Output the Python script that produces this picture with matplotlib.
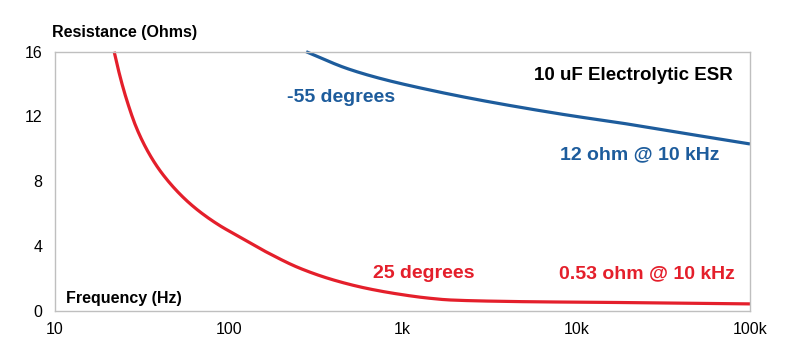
import numpy as np
import matplotlib.pyplot as plt
from matplotlib.ticker import FixedLocator, FixedFormatter, NullLocator

# ESR of a 10 uF electrolytic capacitor vs frequency, read at two temperatures
freq_25 = [21.9, 23.7, 25.9, 29.5, 35.2, 42.0, 54.7, 68.4, 89, 106, 165, 257,
           400, 622, 968, 1400, 1900, 3640, 7060, 10000, 30000, 100000]
esr_25 = [16.0, 14.45, 13.0, 11.27, 9.61, 8.38, 7.0, 6.1, 5.25, 4.78, 3.62,
          2.62, 1.90, 1.38, 1.01, 0.78, 0.66, 0.58, 0.54, 0.53, 0.48, 0.42]

freq_m55 = [279, 477, 743, 1440, 2792, 6760, 10000, 16330, 39500, 100000]
esr_m55 = [16.0, 14.97, 14.35, 13.63, 13.01, 12.29, 12.0, 11.67, 11.0, 10.3]

xticks = [10, 100, 1000, 10000, 100000]
xtick_labels = ['10', '100', '1k', '10k', '100k']
yticks = [0, 4, 8, 12, 16]

red = '#e41f2b'
blue = '#1d5c9c'

plt.rcParams['font.family'] = ['Liberation Sans', 'DejaVu Sans']


def pchip(x, y, xs):
    # monotone cubic (Fritsch-Carlson) so the curves stay smooth between reads
    x = np.asarray(x, float)
    y = np.asarray(y, float)
    h = np.diff(x)
    d = np.diff(y) / h
    m = np.zeros_like(y)
    m[0], m[-1] = d[0], d[-1]
    for k in range(1, len(x) - 1):
        if d[k - 1] * d[k] > 0:
            w1 = 2 * h[k] + h[k - 1]
            w2 = h[k] + 2 * h[k - 1]
            m[k] = (w1 + w2) / (w1 / d[k - 1] + w2 / d[k])
    idx = np.clip(np.searchsorted(x, xs) - 1, 0, len(x) - 2)
    t = (xs - x[idx]) / h[idx]
    h00 = 2 * t**3 - 3 * t**2 + 1
    h10 = t**3 - 2 * t**2 + t
    h01 = -2 * t**3 + 3 * t**2
    h11 = t**3 - t**2
    return (h00 * y[idx] + h10 * h[idx] * m[idx] + h01 * y[idx + 1]
            + h11 * h[idx] * m[idx + 1])


def smooth(f, r, n=400):
    lf = np.log10(f)
    xs = np.linspace(lf[0], lf[-1], n)
    return 10 ** xs, pchip(lf, r, xs)


fig = plt.figure(figsize=(8, 3.5), dpi=100)
ax = fig.add_axes([0.06875, 0.1123, 0.86875, 0.74])

fx, fy = smooth(freq_25, esr_25)
ax.plot(fx, fy, color=red, lw=2.3, solid_capstyle='butt', clip_on=False)
fx, fy = smooth(freq_m55, esr_m55)
ax.plot(fx, fy, color=blue, lw=2.3, solid_capstyle='butt', clip_on=False)

ax.set_xscale('log')
ax.set_xlim(10, 100000)
ax.set_ylim(0, 16)
ax.xaxis.set_major_locator(FixedLocator(xticks))
ax.xaxis.set_major_formatter(FixedFormatter(xtick_labels))
ax.xaxis.set_minor_locator(NullLocator())
ax.set_yticks(yticks)
ax.tick_params(axis='both', length=0, labelsize=11.5)
ax.tick_params(axis='x', pad=8)
ax.tick_params(axis='y', pad=9)

for s in ax.spines.values():
    s.set_color('#bfbfbf')
    s.set_linewidth(1.0)

# axis titles sit inside / above the frame
fig.text(52 / 800, 1 - 32 / 350, 'Resistance (Ohms)', fontsize=11.5,
         fontweight='bold', ha='left', va='center')
fig.text(66 / 800, 1 - 298 / 350, 'Frequency (Hz)', fontsize=11.5,
         fontweight='bold', ha='left', va='center')

# annotations
fig.text(733 / 800, 1 - 75 / 350, '10 uF Electrolytic ESR', fontsize=13.5,
         fontweight='bold', ha='right', va='center', color='black')
fig.text(287 / 800, 1 - 97 / 350, '-55 degrees', fontsize=14,
         fontweight='bold', ha='left', va='center', color=blue)
fig.text(720 / 800, 1 - 155 / 350, '12 ohm @ 10 kHz', fontsize=14,
         fontweight='bold', ha='right', va='center', color=blue)
fig.text(373 / 800, 1 - 273 / 350, '25 degrees', fontsize=14,
         fontweight='bold', ha='left', va='center', color=red)
fig.text(735 / 800, 1 - 274 / 350, '0.53 ohm @ 10 kHz', fontsize=14,
         fontweight='bold', ha='right', va='center', color=red)

fig.savefig('out.png', dpi=100)
